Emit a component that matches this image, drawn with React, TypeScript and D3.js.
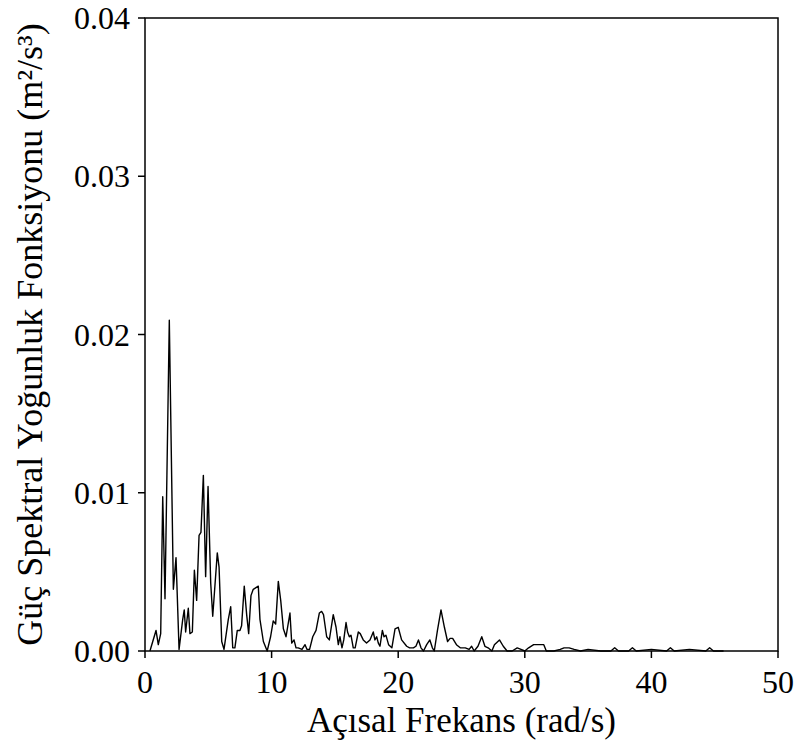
import React from "react";
import * as d3 from "d3";

const freq: number[] = [
  0.39, 0.87, 1.05, 1.24, 1.40, 1.58, 1.92, 2.24, 2.45, 2.69, 2.98, 3.10, 3.21, 3.42, 3.55, 3.74, 3.90, 4.08, 4.27, 4.42,
  4.61, 4.79, 4.98, 5.19, 5.35, 5.71, 5.85, 6.06, 6.24, 6.58, 6.77, 6.93, 7.10, 7.29, 7.50, 7.63, 7.84, 8.03, 8.19, 8.37,
  8.55, 8.95, 9.08, 9.35, 9.65, 9.92, 10.13, 10.32, 10.53, 10.72, 10.93, 11.14, 11.45, 11.59, 11.77, 11.93, 12.10, 12.40, 12.64, 12.80,
  13.00, 13.25, 13.51, 13.77, 13.95, 14.10, 14.35, 14.56, 14.87, 15.09, 15.27, 15.40, 15.56, 15.70, 15.88, 16.00, 16.14, 16.27, 16.45, 16.60,
  16.85, 17.00, 17.24, 17.50, 17.77, 18.03, 18.16, 18.30, 18.43, 18.56, 18.75, 18.88, 19.03, 19.24, 19.50, 19.75, 20.00, 20.27, 20.67, 20.90,
  21.20, 21.40, 21.60, 21.80, 22.00, 22.25, 22.50, 22.70, 22.85, 23.10, 23.38, 23.65, 23.90, 24.10, 24.30, 24.60, 24.90, 25.30, 25.60, 25.80,
  26.00, 26.30, 26.60, 26.85, 27.10, 27.40, 27.60, 28.00, 28.30, 28.60, 29.00, 29.40, 29.70, 30.00, 30.30, 30.70, 31.10, 31.50, 31.70, 32.30,
  32.80, 33.10, 33.50, 33.90, 34.40, 35.00, 36.00, 36.80, 37.10, 37.40, 38.20, 38.50, 38.80, 40.00, 41.20, 41.50, 41.80, 43.00, 44.30, 44.60,
  44.90, 45.70
];

const psd: number[] = [
  0.0000, 0.0013, 0.0004, 0.0011, 0.00975, 0.0033, 0.0209, 0.0039, 0.0059, 0.0001, 0.0020, 0.0026, 0.0012, 0.0027, 0.0011, 0.0012, 0.0051, 0.0032, 0.0073, 0.0075,
  0.0111, 0.0047, 0.0104, 0.0043, 0.0022, 0.0062, 0.0053, 0.0006, 0.0001, 0.0020, 0.0028, 0.0002, 0.0002, 0.0013, 0.0013, 0.0016, 0.0041, 0.0023, 0.0011, 0.0035,
  0.0039, 0.0041, 0.0020, 0.0006, 0.0000, 0.0009, 0.0019, 0.0017, 0.0044, 0.0032, 0.0014, 0.0009, 0.0024, 0.0005, 0.0007, 0.0002, 0.0002, 0.0001, 0.0004, 0.0001,
  0.0001, 0.0009, 0.0013, 0.0024, 0.0025, 0.0023, 0.0009, 0.0007, 0.0023, 0.0015, 0.0004, 0.0009, 0.0002, 0.0007, 0.0018, 0.0012, 0.0009, 0.0010, 0.0002, 0.0002,
  0.0012, 0.0011, 0.0007, 0.0005, 0.0007, 0.0012, 0.0007, 0.0009, 0.0005, 0.0003, 0.0013, 0.0009, 0.0010, 0.0004, 0.0002, 0.0014, 0.0015, 0.0007, 0.0003, 0.0002,
  0.0002, 0.0003, 0.0007, 0.0002, 0.0000, 0.0004, 0.0007, 0.0002, 0.0000, 0.0013, 0.0026, 0.0015, 0.0006, 0.0008, 0.0008, 0.0004, 0.0002, 0.0002, 0.0001, 0.0003,
  0.0000, 0.0003, 0.0009, 0.0003, 0.0002, 0.0000, 0.0004, 0.0007, 0.0003, 0.0000, 0.0000, 0.0002, 0.0001, 0.0000, 0.0002, 0.0004, 0.0004, 0.0004, 0.0000, 0.0000,
  0.0001, 0.0002, 0.0002, 0.0001, 0.0000, 0.0001, 0.0000, 0.0000, 0.0002, 0.0000, 0.0000, 0.0002, 0.0000, 0.0001, 0.0000, 0.0002, 0.0000, 0.0001, 0.0000, 0.0002,
  0.0000, 0.0000
];

const xTicks: number[] = [0, 10, 20, 30, 40, 50];
const yTicks: number[] = [0, 0.01, 0.02, 0.03, 0.04];
const xTitle = "Açısal Frekans (rad/s)";
const yTitle = "Güç Spektral Yoğunluk Fonksiyonu (m²/s³)";

const W = 797;
const H = 745;
const left = 145;
const right = 778;
const top = 18;
const bottom = 651;

export default function App() {
  const x = d3.scaleLinear().domain([0, 50]).range([left, right]);
  const y = d3.scaleLinear().domain([0, 0.04]).range([bottom, top]);
  const data = freq.map((f, i) => [f, psd[i]] as [number, number]);
  const line = d3
    .line<[number, number]>()
    .x((d) => x(d[0]))
    .y((d) => y(d[1]));
  const font = "'Liberation Serif', 'Times New Roman', serif";
  return (
    <svg
      width={W}
      height={H}
      style={{ position: "absolute", left: 0, top: 0, background: "#fff" }}
      fontFamily={font}
    >
      <rect x={0} y={0} width={W} height={H} fill="#fff" />
      <path d={line(data) || ""} fill="none" stroke="#000" strokeWidth={1.4} strokeLinejoin="round" />
      <rect x={left} y={top} width={right - left} height={bottom - top} fill="none" stroke="#000" strokeWidth={1.5} />
      {xTicks.map((t) => (
        <g key={"x" + t}>
          <line x1={x(t)} x2={x(t)} y1={bottom} y2={bottom + 7} stroke="#000" strokeWidth={1.5} />
          <text x={x(t)} y={bottom + 42} textAnchor="middle" fontSize={32} fill="#000">
            {t}
          </text>
        </g>
      ))}
      {yTicks.map((t) => (
        <g key={"y" + t}>
          <line x1={left - 7} x2={left} y1={y(t)} y2={y(t)} stroke="#000" strokeWidth={1.5} />
          <text x={left - 15} y={y(t) + 11} textAnchor="end" fontSize={32} fill="#000">
            {t.toFixed(2)}
          </text>
        </g>
      ))}
      <text x={(left + right) / 2} y={bottom + 81} textAnchor="middle" fontSize={35} fill="#000">
        {xTitle}
      </text>
      <text
        transform={`translate(42, ${(top + bottom) / 2}) rotate(-90)`}
        textAnchor="middle"
        fontSize={36}
        fill="#000"
      >
        {yTitle}
      </text>
    </svg>
  );
}
